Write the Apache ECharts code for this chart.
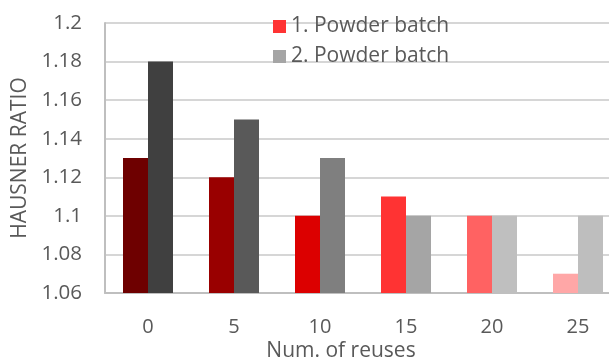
<!DOCTYPE html>
<html>
<head>
<meta charset="utf-8">
<script src="https://cdn.jsdelivr.net/npm/echarts@6/dist/echarts.min.js"></script>
<style>html,body{margin:0;padding:0;background:#fff;overflow:hidden;width:609px;height:363px;}#c{width:621px;height:363px;}</style>
</head>
<body>
<div id="c"></div>
<script>
var categories = ['0', '5', '10', '15', '20', '25'];
var batch1 = [1.13, 1.12, 1.10, 1.11, 1.10, 1.07];
var batch2 = [1.18, 1.15, 1.13, 1.10, 1.10, 1.10];
var colors1 = ['#6e0000', '#990000', '#dc0000', '#ff3333', '#ff6262', '#ffa7a7'];
var colors2 = ['#404040', '#595959', '#7f7f7f', '#a5a5a5', '#bfbfbf', '#bebebe'];
var seriesNames = ['1. Powder batch', '2. Powder batch'];

var FONT = '"Open Sans", "Noto Sans", sans-serif';
var chart = echarts.init(document.getElementById('c'), null, {renderer: 'canvas'});
function items(vals, cols) {
  return vals.map(function (v, i) { return {value: v, itemStyle: {color: cols[i]}}; });
}
chart.setOption({
  animation: false,
  backgroundColor: '#ffffff',
  title: {
    text: 'Num. of reuses',
    left: 341, top: 341, textAlign: 'center', padding: 0,
    textStyle: {fontFamily: FONT, fontSize: 21, fontWeight: 'normal', color: '#595959'}
  },
  legend: {
    orient: 'vertical',
    left: 273, top: 16, padding: 0,
    itemWidth: 13, itemHeight: 13, itemGap: 9,
    icon: 'rect',
    textStyle: {fontFamily: FONT, fontSize: 21, color: '#595959'},
    data: [
      {name: seriesNames[0], itemStyle: {color: '#ff3333'}},
      {name: seriesNames[1], itemStyle: {color: '#a5a5a5'}}
    ]
  },
  grid: {left: 105, right: 0, top: 23, bottom: 70, containLabel: false},
  xAxis: {
    type: 'category',
    data: categories,
    axisLine: {lineStyle: {color: '#bfbfbf', width: 2}},
    axisTick: {show: false},
    axisLabel: {fontFamily: FONT, fontSize: 20, color: '#595959', margin: 24}
  },
  yAxis: {
    type: 'value',
    min: 1.06, max: 1.2, interval: 0.02,
    name: 'HAUSNER RATIO',
    nameLocation: 'middle',
    nameGap: 74,
    nameTextStyle: {fontFamily: FONT, fontSize: 21, color: '#595959'},
    axisLine: {show: true, lineStyle: {color: '#bfbfbf', width: 2}},
    axisTick: {show: false},
    splitLine: {lineStyle: {color: '#d6d6d6', width: 2}},
    axisLabel: {
      fontFamily: FONT, fontSize: 20.5, color: '#595959', margin: 23,
      formatter: function (v) { return String(parseFloat(v.toFixed(2))); }
    }
  },
  series: [
    {name: seriesNames[0], type: 'bar', barWidth: 25, barGap: '0%', data: items(batch1, colors1)},
    {name: seriesNames[1], type: 'bar', barWidth: 25, barGap: '0%', data: items(batch2, colors2)}
  ]
});
</script>
</body>
</html>
